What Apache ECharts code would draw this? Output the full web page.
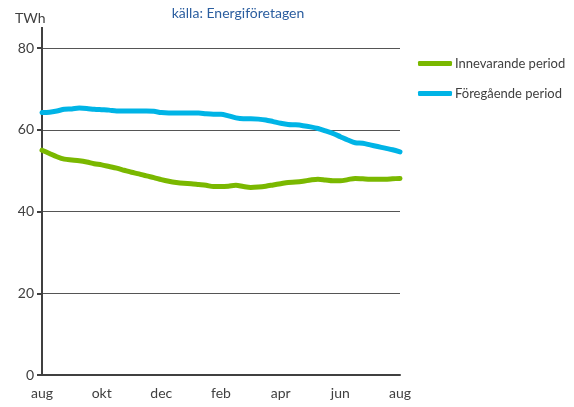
<!DOCTYPE html>
<html>
<head>
<meta charset="utf-8">
<script src="https://cdn.jsdelivr.net/npm/echarts@6/dist/echarts.min.js"></script>
<style>
  html, body { margin: 0; padding: 0; background: #fff; }
  #chart { width: 574px; height: 407px; }
</style>
</head>
<body>
<div id="chart"></div>
<script>
// quarter-month steps from aug to aug
const months = ['aug', 'sep', 'okt', 'nov', 'dec', 'jan', 'feb', 'mar', 'apr', 'maj', 'jun', 'jul', 'aug'];
const categories = [];
for (let m = 0; m < 12; m++) {
  for (let q = 0; q < 4; q++) categories.push(q === 0 ? months[m] : months[m] + '_' + q);
}
categories.push('aug2');

const innevarande = [
  55.0, 54.2, 53.4, 52.8, 52.6, 52.4, 52.1, 51.7, 51.4, 51.0,
  50.6, 50.1, 49.6, 49.2, 48.7, 48.3, 47.8, 47.4, 47.1, 46.9,
  46.8, 46.6, 46.4, 46.1, 46.1, 46.2, 46.4, 46.1, 45.9, 46.0,
  46.2, 46.5, 46.8, 47.1, 47.2, 47.4, 47.7, 47.9, 47.7, 47.5,
  47.5, 47.8, 48.1, 48.0, 47.9, 47.9, 47.9, 48.0, 48.1
];
const foregaende = [
  64.2, 64.3, 64.6, 65.0, 65.1, 65.3, 65.2, 65.0, 64.9, 64.8,
  64.6, 64.6, 64.6, 64.6, 64.6, 64.5, 64.2, 64.1, 64.1, 64.1,
  64.1, 64.1, 63.9, 63.8, 63.8, 63.4, 62.9, 62.7, 62.7, 62.6,
  62.4, 62.0, 61.6, 61.3, 61.2, 61.0, 60.7, 60.3, 59.7, 59.1,
  58.3, 57.5, 56.8, 56.7, 56.3, 55.9, 55.5, 55.1, 54.6
];

const chart = echarts.init(document.getElementById('chart'));
const font = 'Lato, "Open Sans", sans-serif';

chart.setOption({
  animation: false,
  title: {
    text: 'källa: Energiföretagen',
    left: 233,
    top: 1,
    textAlign: 'center',
    textStyle: { color: '#2a5d9f', fontSize: 14, fontWeight: 'normal', fontFamily: font }
  },
  legend: {
    orient: 'vertical',
    left: 413,
    top: 52,
    itemGap: 17,
    itemWidth: 34,
    itemHeight: 5,
    icon: 'roundRect',
    textStyle: { color: '#404040', fontSize: 13, fontFamily: font, padding: [0, 0, 0, -2] },
    data: ['Innevarande period', 'Föregående period']
  },
  grid: { left: 42, right: 174, top: 48, bottom: 32 },
  graphic: [
    { type: 'text', left: 15, top: 11, style: { text: 'TWh', fill: '#404040', font: '14px ' + font } },
    { type: 'line', shape: { x1: 42, y1: 27, x2: 42, y2: 48 }, style: { stroke: '#404040', lineWidth: 2 } }
  ],
  xAxis: {
    type: 'category',
    boundaryGap: false,
    data: categories,
    axisLine: { lineStyle: { color: '#404040', width: 2 } },
    axisTick: { show: false },
    axisLabel: {
      interval: 7,
      color: '#404040',
      fontSize: 14,
      fontFamily: font,
      margin: 11,
      formatter: v => v.replace(/_\d|2$/, '')
    },
    splitLine: { show: false }
  },
  yAxis: {
    type: 'value',
    min: 0,
    max: 80,
    interval: 20,
    axisLine: { show: true, lineStyle: { color: '#404040', width: 2 } },
    axisTick: { show: true, length: 5, lineStyle: { color: '#404040', width: 2 } },
    axisLabel: { color: '#404040', fontSize: 14, fontFamily: font, margin: 8 },
    splitLine: { lineStyle: { color: '#555', width: 1 } }
  },
  series: [
    {
      name: 'Innevarande period',
      type: 'line',
      data: innevarande,
      showSymbol: false,
      smooth: 0.3,
      itemStyle: { color: '#7ab800' },
      lineStyle: { width: 5, color: '#7ab800', cap: 'round' }
    },
    {
      name: 'Föregående period',
      type: 'line',
      data: foregaende,
      showSymbol: false,
      smooth: 0.3,
      itemStyle: { color: '#00b4e6' },
      lineStyle: { width: 5, color: '#00b4e6', cap: 'round' }
    }
  ]
});
</script>
</body>
</html>
